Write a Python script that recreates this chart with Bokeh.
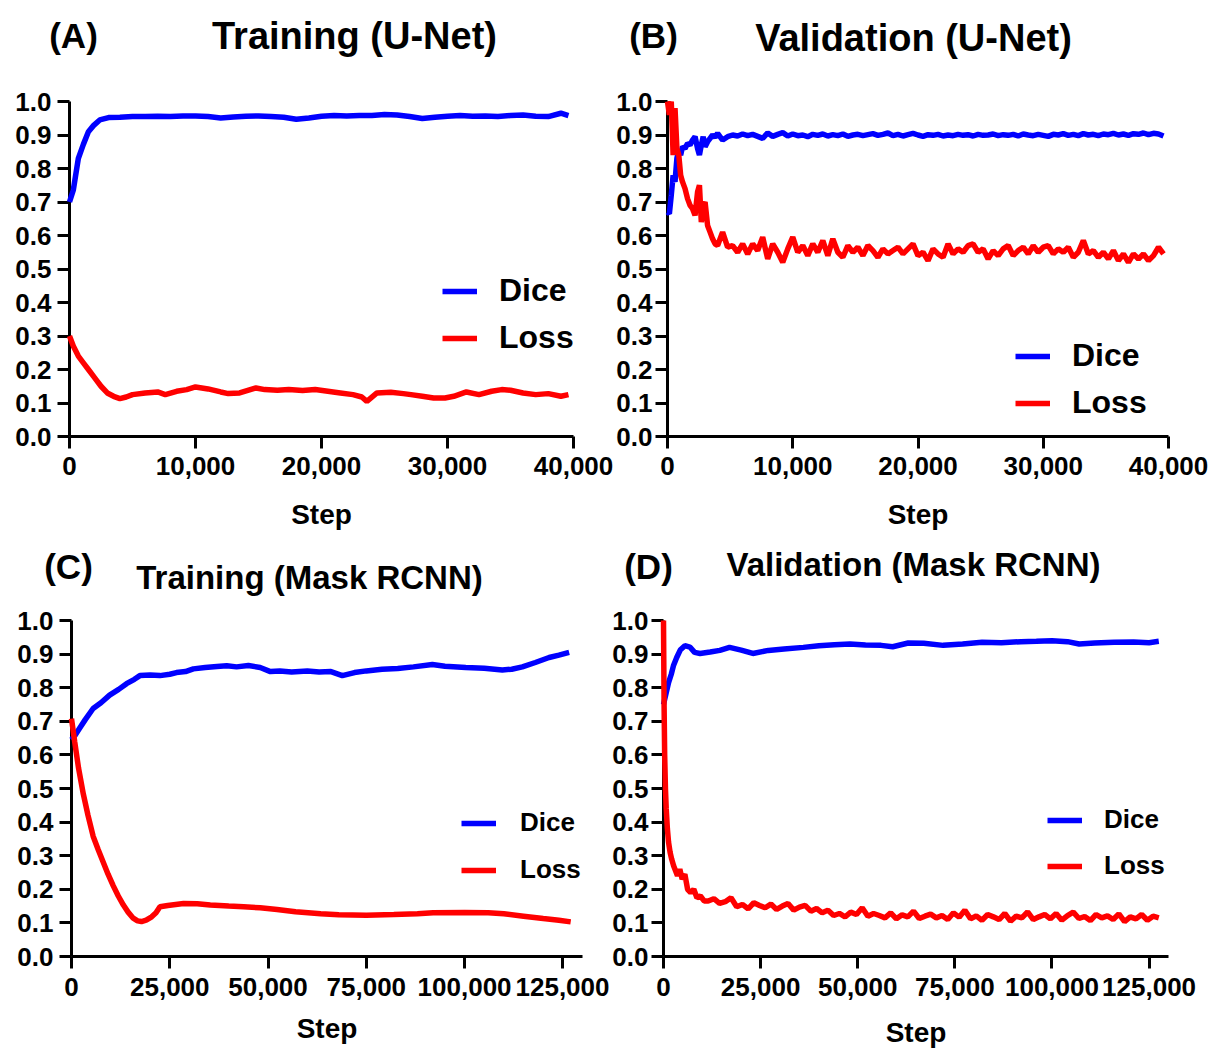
import numpy as np
from bokeh.plotting import figure
from bokeh.models import (Range1d, FixedTicker, NumeralTickFormatter, Legend,
                          LegendItem)
from bokeh.core.properties import value
from bokeh.layouts import column, row
from bokeh.embed import file_html
from bokeh.resources import INLINE

FONT = "Liberation Sans"
BLUE = "#0000FF"
RED = "#FF0000"

Y_TICKS = [0.0, 0.1, 0.2, 0.3, 0.4, 0.5, 0.6, 0.7, 0.8, 0.9, 1.0]
X_TICKS_UNET = [0, 10000, 20000, 30000, 40000]
X_TICKS_RCNN = [0, 25000, 50000, 75000, 100000, 125000]
SERIES_NAMES = ["Dice", "Loss"]
PANEL_TAGS = ["(A)", "(B)", "(C)", "(D)"]
PANEL_TITLES = ["Training (U-Net)", "Validation (U-Net)",
                "Training (Mask RCNN)", "Validation (Mask RCNN)"]

# ---------------- (A) Training (U-Net) ----------------
A_dice_x = [0, 300, 700, 1100, 1500, 1900, 2400, 3100,
            4000, 5000, 6000, 7000, 8000, 9000, 10000, 11000, 12000, 13000,
            14000, 15000, 16000, 17000, 18000, 19000, 20000, 21000, 22000, 23000,
            24000, 25000, 26000, 27000, 28000, 29000, 30000, 31000, 32000, 33000,
            34000, 35000, 36000, 37000, 38000, 39000, 39600]
A_dice_y = [0.70, 0.735, 0.83, 0.872, 0.91, 0.928, 0.945, 0.952,
            0.953, 0.955, 0.955, 0.956, 0.955, 0.957, 0.957, 0.955, 0.951, 0.954,
            0.956, 0.957, 0.955, 0.953, 0.947, 0.951, 0.956, 0.958, 0.957, 0.958,
            0.958, 0.961, 0.960, 0.955, 0.949, 0.953, 0.956, 0.958, 0.956, 0.957,
            0.955, 0.958, 0.960, 0.956, 0.955, 0.965, 0.958]
A_loss_x = [0, 300, 700, 1100, 1500, 2000, 2500, 3000, 3500, 4000,
            4500, 5000, 6000, 7000, 7600, 8500, 9300, 10000, 11000, 12000,
            12600, 13500, 14800, 15500, 16500, 17400, 18500, 19500, 20500, 21500,
            22500, 23200, 23600, 24400, 25500, 26500, 27100, 28000, 28900, 29800,
            30500, 31500, 32500, 33500, 34300, 35000, 36000, 37000, 38000, 39000,
            39600]
A_loss_y = [0.30, 0.27, 0.24, 0.22, 0.20, 0.175, 0.15, 0.13, 0.12, 0.113,
            0.118, 0.125, 0.13, 0.133, 0.125, 0.135, 0.14, 0.148, 0.142, 0.133,
            0.128, 0.13, 0.145, 0.14, 0.138, 0.14, 0.137, 0.14, 0.135, 0.13,
            0.125, 0.118, 0.105, 0.13, 0.132, 0.128, 0.125, 0.12, 0.115, 0.115,
            0.12, 0.133, 0.125, 0.135, 0.14, 0.138, 0.13, 0.125, 0.128, 0.12,
            0.125]

# ---------------- (B) Validation (U-Net) ----------------
B_early_x = [0, 150, 300, 450, 600, 750, 900, 1050, 1200, 1400, 1600, 1800,
             2000, 2200, 2400, 2550, 2700, 2850, 3000, 3200, 3400, 3600, 3800, 4000]
B_dice_early = [0.67, 0.665, 0.72, 0.78, 0.76, 0.83, 0.855, 0.84, 0.865, 0.86, 0.875, 0.87,
                0.885, 0.895, 0.86, 0.84, 0.87, 0.895, 0.865, 0.88, 0.89, 0.90, 0.893, 0.905]
B_loss_early = [1.0, 0.96, 1.0, 0.84, 0.98, 0.86, 0.84, 0.78, 0.76, 0.74, 0.71, 0.69,
                0.68, 0.66, 0.73, 0.75, 0.64, 0.69, 0.70, 0.63, 0.61, 0.59, 0.575, 0.57]
B_late_start, B_late_end = 4400, 39600
B_dice_late = [0.885, 0.895, 0.90, 0.897, 0.903, 0.898, 0.902, 0.896, 0.89, 0.906,
               0.896, 0.902, 0.907, 0.897, 0.903, 0.898, 0.90, 0.895, 0.902, 0.899,
               0.903, 0.897, 0.901, 0.898, 0.903, 0.896, 0.90, 0.902, 0.898, 0.901,
               0.904, 0.899, 0.902, 0.906, 0.898, 0.902, 0.897, 0.901, 0.905, 0.90,
               0.896, 0.901, 0.899, 0.902, 0.897, 0.90, 0.898, 0.902, 0.899, 0.901,
               0.897, 0.902, 0.899, 0.90, 0.903, 0.898, 0.901, 0.899, 0.902, 0.897,
               0.903, 0.90, 0.898, 0.902, 0.899, 0.896, 0.902, 0.90, 0.904, 0.899,
               0.902, 0.898, 0.904, 0.90, 0.902, 0.898, 0.903, 0.901, 0.905, 0.90,
               0.903, 0.899, 0.904, 0.902, 0.906, 0.901, 0.905, 0.903, 0.897]
B_loss_late = [0.61, 0.565, 0.57, 0.55, 0.575, 0.545, 0.575, 0.555, 0.595, 0.53,
               0.575, 0.55, 0.52, 0.56, 0.595, 0.55, 0.57, 0.54, 0.575, 0.55,
               0.585, 0.54, 0.59, 0.55, 0.535, 0.57, 0.55, 0.565, 0.54, 0.57,
               0.555, 0.535, 0.56, 0.545, 0.555, 0.565, 0.545, 0.56, 0.575, 0.54,
               0.55, 0.525, 0.56, 0.545, 0.535, 0.575, 0.545, 0.56, 0.55, 0.57,
               0.575, 0.55, 0.56, 0.53, 0.555, 0.54, 0.56, 0.57, 0.54, 0.555,
               0.565, 0.545, 0.57, 0.55, 0.565, 0.57, 0.545, 0.56, 0.55, 0.565,
               0.535, 0.55, 0.585, 0.545, 0.555, 0.535, 0.55, 0.53, 0.555, 0.525,
               0.545, 0.52, 0.545, 0.53, 0.545, 0.525, 0.54, 0.565, 0.545]

# ---------------- (C) Training (Mask RCNN) ----------------
C_dice_x = [0, 1000, 2100, 3500, 5500, 7500, 9700, 12000, 14000, 16000,
            17400, 20000, 22500, 25000, 26700, 29000, 31000, 34000, 37000, 39500,
            42000, 45000, 48000, 50600, 53000, 56000, 60000, 63000, 66000, 68900,
            72000, 75000, 79000, 83000, 87000, 91800, 95000, 100300, 105000, 109600,
            112000, 114700, 118000, 121500, 124000, 126600]
C_dice_y = [0.645, 0.66, 0.68, 0.705, 0.738, 0.755, 0.778, 0.795, 0.812, 0.825,
            0.836, 0.838, 0.836, 0.84, 0.845, 0.848, 0.856, 0.86, 0.863, 0.865,
            0.862, 0.866, 0.86, 0.848, 0.85, 0.847, 0.85, 0.847, 0.848, 0.836,
            0.845, 0.85, 0.855, 0.857, 0.862, 0.869, 0.864, 0.86, 0.858, 0.853,
            0.855, 0.862, 0.875, 0.89, 0.897, 0.905]
C_loss_x = [0, 800, 1800, 3000, 4200, 5500, 6800, 8100, 9300, 10600,
            11900, 13200, 14400, 15700, 16800, 17800, 19000, 20400, 21500, 22500,
            24500, 28500, 32000, 35300, 40000, 43800, 48000, 52300, 57000, 63400,
            68000, 75000, 82000, 88000, 92000, 100000, 106000, 110000, 115000, 120000,
            124000, 127000]
C_loss_y = [0.708, 0.64, 0.56, 0.484, 0.42, 0.358, 0.318, 0.28, 0.245, 0.211,
            0.18, 0.153, 0.132, 0.114, 0.106, 0.104, 0.108, 0.118, 0.13, 0.148,
            0.152, 0.158, 0.157, 0.153, 0.15, 0.148, 0.145, 0.14, 0.133, 0.127,
            0.124, 0.123, 0.125, 0.127, 0.13, 0.131, 0.13, 0.127, 0.12, 0.113,
            0.108, 0.103]

# ---------------- (D) Validation (Mask RCNN) ----------------
D_dice_x = [0, 600, 1300, 2000, 2600, 3400, 4300, 5500, 6800, 8000,
            9400, 12000, 14500, 17000, 20000, 23000, 27000, 31000, 36000, 40000,
            44000, 48000, 52000, 56000, 59000, 63000, 67000, 72000, 77000, 82000,
            87000, 92000, 96000, 100000, 104000, 107000, 111000, 116000, 121000, 125000,
            127500]
D_dice_y = [0.75, 0.78, 0.815, 0.84, 0.867, 0.89, 0.912, 0.925, 0.921, 0.905,
            0.902, 0.906, 0.911, 0.92, 0.912, 0.902, 0.911, 0.915, 0.92, 0.925,
            0.928, 0.93, 0.927, 0.926, 0.922, 0.933, 0.932, 0.926, 0.93, 0.935,
            0.934, 0.937, 0.938, 0.94, 0.937, 0.93, 0.933, 0.935, 0.936, 0.934,
            0.938]
D_loss_early_x = [0, 150, 300, 500, 700, 1000, 1300, 1700, 2100, 2600, 3100,
                  3600, 4200, 4800, 5500, 6200, 7000, 7800, 8600, 9500, 10500]
D_loss_early_y = [1.0, 0.75, 0.60, 0.50, 0.44, 0.38, 0.34, 0.31, 0.29, 0.27, 0.255,
                  0.24, 0.26, 0.23, 0.245, 0.20, 0.19, 0.20, 0.175, 0.18, 0.165]
D_late_start, D_late_end = 11500, 127500
D_loss_late = [0.165, 0.172, 0.158, 0.163, 0.175, 0.148, 0.155, 0.142, 0.16, 0.152,
               0.145, 0.156, 0.14, 0.15, 0.158, 0.138, 0.147, 0.152, 0.135, 0.143,
               0.13, 0.138, 0.122, 0.128, 0.118, 0.132, 0.125, 0.145, 0.12, 0.128,
               0.122, 0.115, 0.13, 0.112, 0.124, 0.118, 0.135, 0.113, 0.12, 0.126,
               0.115, 0.122, 0.11, 0.13, 0.117, 0.138, 0.112, 0.121, 0.108, 0.125,
               0.118, 0.11, 0.128, 0.105, 0.12, 0.115, 0.133, 0.11, 0.118, 0.125,
               0.112, 0.128, 0.108, 0.122, 0.132, 0.113, 0.119, 0.107, 0.125, 0.115,
               0.121, 0.11, 0.127, 0.104, 0.118, 0.112, 0.125, 0.108, 0.12, 0.115]


def late_grid(start, end, vals):
    return list(np.linspace(start, end, len(vals)))


B_x = B_early_x + late_grid(B_late_start, B_late_end, B_dice_late)
B_dice_y = B_dice_early + B_dice_late
B_loss_y = B_loss_early + B_loss_late
D_loss_x = D_loss_early_x + late_grid(D_late_start, D_late_end, D_loss_late)
D_loss_y = D_loss_early_y + D_loss_late


def make_header(width, height, idx, tag_pos, title_pos, tag_size, title_size):
    """A text-only strip; its ranges map 1:1 to pixels (y measured downward)."""
    h = figure(width=width, height=height, x_range=Range1d(0, width),
               y_range=Range1d(height, 0), output_backend="svg",
               toolbar_location=None, x_axis_type=None, y_axis_type=None,
               min_border=0)
    h.grid.visible = False
    h.outline_line_color = None
    h.background_fill_color = "white"
    h.border_fill_color = "white"
    for text, pos, fs in ((PANEL_TAGS[idx], tag_pos, tag_size),
                          (PANEL_TITLES[idx], title_pos, title_size)):
        h.text(x=[pos[0]], y=[pos[1]], text=[text], text_font=value(FONT),
               text_font_style="bold", text_font_size=value(fs), text_color="black",
               text_align="center", text_baseline="middle")
    return h


def make_panel(origin, size, frame, xmax, xticks, dice, loss, leg_font, leg_h,
               leg_loc, leg_spacing, leg_standoff, major_standoff_x,
               major_standoff_y, axlab_standoff):
    ox, oy = origin
    W, H = size
    fl, ft, fr, fb = frame
    p = figure(width=W, height=H, x_range=Range1d(0, xmax), y_range=Range1d(0, 1.0),
               output_backend="svg", toolbar_location=None,
               min_border_left=fl - ox, min_border_right=W - (fr - ox),
               min_border_top=ft - oy, min_border_bottom=H - (fb - oy))
    p.grid.visible = False
    p.outline_line_color = None
    p.background_fill_color = "white"
    p.border_fill_color = "white"

    for ax in (p.xaxis[0], p.yaxis[0]):
        ax.axis_line_width = 3
        ax.axis_line_color = "black"
        ax.major_tick_line_width = 3
        ax.major_tick_line_color = "black"
        ax.major_tick_out = 12
        ax.major_tick_in = 0
        ax.minor_tick_out = 0
        ax.minor_tick_in = 0
        ax.major_label_text_font = FONT
        ax.major_label_text_font_style = "bold"
        ax.major_label_text_font_size = "26px"
        ax.major_label_text_color = "black"
    p.yaxis[0].ticker = FixedTicker(ticks=Y_TICKS)
    p.yaxis[0].formatter = NumeralTickFormatter(format="0.0")
    p.yaxis[0].major_label_standoff = major_standoff_y
    p.xaxis[0].ticker = FixedTicker(ticks=xticks)
    p.xaxis[0].formatter = NumeralTickFormatter(format="0,0")
    p.xaxis[0].major_label_standoff = major_standoff_x
    p.xaxis[0].axis_label = "Step"
    p.xaxis[0].axis_label_text_font = FONT
    p.xaxis[0].axis_label_text_font_style = "bold"
    p.xaxis[0].axis_label_text_font_size = "28px"
    p.xaxis[0].axis_label_text_color = "black"
    p.xaxis[0].axis_label_standoff = axlab_standoff

    rd = p.line(dice[0], dice[1], line_color=BLUE, line_width=5.5, level="overlay")
    rl = p.line(loss[0], loss[1], line_color=RED, line_width=5.5, level="overlay")

    leg = Legend(items=[LegendItem(label=SERIES_NAMES[0], renderers=[rd]),
                        LegendItem(label=SERIES_NAMES[1], renderers=[rl])],
                 location=leg_loc, orientation="vertical", padding=0, margin=0,
                 spacing=leg_spacing, glyph_width=35, glyph_height=leg_h,
                 label_height=leg_h, label_standoff=leg_standoff,
                 label_text_font=FONT, label_text_font_style="bold",
                 label_text_font_size=leg_font, label_text_color="black",
                 border_line_alpha=0, background_fill_alpha=0)
    p.add_layout(leg)
    return p


# header strips (pixel coordinates inside each strip)
hA = make_header(613, 60, 0, tag_pos=(73, 35), title_pos=(354, 35),
                 tag_size="35px", title_size="38px")
hB = make_header(604, 60, 1, tag_pos=(40, 35), title_pos=(300, 37),
                 tag_size="35px", title_size="38px")
hC = make_header(609, 64, 2, tag_pos=(68, 32), title_pos=(309, 43),
                 tag_size="35px", title_size="33px")
hD = make_header(608, 64, 3, tag_pos=(39, 32), title_pos=(304, 30),
                 tag_size="35px", title_size="33px")

pA = make_panel(origin=(0, 60), size=(613, 474), frame=(69, 101, 573, 437),
                xmax=40000, xticks=X_TICKS_UNET,
                dice=(A_dice_x, A_dice_y), loss=(A_loss_x, A_loss_y),
                leg_font="32px", leg_h=36, leg_loc=(373, 80), leg_spacing=10,
                leg_standoff=22, major_standoff_x=8, major_standoff_y=6,
                axlab_standoff=21)
pB = make_panel(origin=(613, 60), size=(604, 474), frame=(664, 100, 1168, 436),
                xmax=40000, xticks=X_TICKS_UNET,
                dice=(B_x, B_dice_y), loss=(B_x, B_loss_y),
                leg_font="32px", leg_h=36, leg_loc=(348, 15), leg_spacing=10,
                leg_standoff=22, major_standoff_x=8, major_standoff_y=3,
                axlab_standoff=21)
pC = make_panel(origin=(0, 598), size=(609, 452), frame=(71, 617, 582, 959),
                xmax=130000, xticks=X_TICKS_RCNN,
                dice=(C_dice_x, C_dice_y), loss=(C_loss_x, C_loss_y),
                leg_font="26px", leg_h=30, leg_loc=(390, 71), leg_spacing=16,
                leg_standoff=24, major_standoff_x=9, major_standoff_y=6,
                axlab_standoff=14)
pD = make_panel(origin=(609, 598), size=(608, 452), frame=(660, 620, 1168, 958),
                xmax=130000, xticks=X_TICKS_RCNN,
                dice=(D_dice_x, D_dice_y), loss=(D_loss_x, D_loss_y),
                leg_font="26px", leg_h=30, leg_loc=(384, 75), leg_spacing=15,
                leg_standoff=22, major_standoff_x=9, major_standoff_y=3,
                axlab_standoff=18)

layout = column(row(hA, hB), row(pA, pB), row(hC, hD), row(pC, pD))
open("out.html", "w").write(file_html(layout, INLINE))
